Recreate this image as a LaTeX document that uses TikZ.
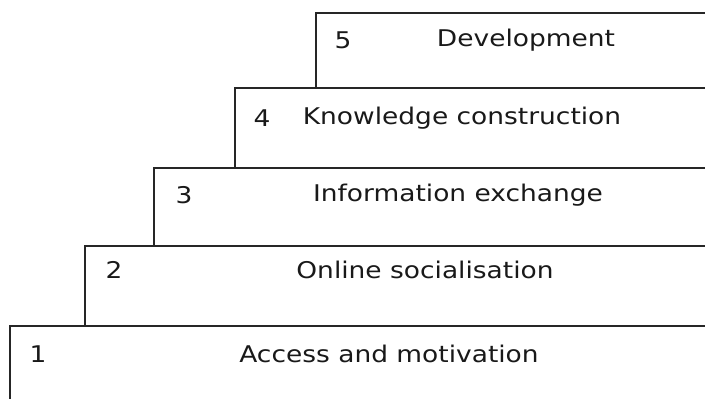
\documentclass[tikz,border=0pt]{standalone}
\usepackage{fontspec}
\setmainfont{DejaVu Sans}[FakeStretch=1.15]
\begin{document}
\begin{tikzpicture}[x=1pt,y=-1pt,
  stepline/.style={line width=2.4pt, draw=black!85},
  lbl/.style={font=\fontsize{23}{25}\selectfont, text=black!90, inner sep=0pt}]
\useasboundingbox (0,0) rectangle (705,399);
% corners
\coordinate (t5) at (316,13);  \coordinate (r5) at (705,13);
\coordinate (t4) at (235,88);  \coordinate (r4) at (705,88);
\coordinate (t3) at (154,168); \coordinate (r3) at (705,168);
\coordinate (t2) at (85,246);  \coordinate (r2) at (705,246);
\coordinate (t1) at (10,326);  \coordinate (r1) at (705,326);
\coordinate (b1) at (10,399);
\coordinate (b5) at (316,88);
\coordinate (b4) at (235,168);
\coordinate (b3) at (154,246);
\coordinate (b2) at (85,326);
\draw[stepline] (b5) -- (t5) -- (r5);
\draw[stepline] (b4) -- (t4) -- (r4);
\draw[stepline] (b3) -- (t3) -- (r3);
\draw[stepline] (b2) -- (t2) -- (r2);
\draw[stepline] (b1) -- (t1) -- (r1);
% labels
\node[lbl] (n5) at (343,40) {5};
\node[lbl] (l5) at (526,40) {Development};
\node[lbl] (n4) at (262,118) {4};
\node[lbl] (l4) at (462,118) {Knowledge construction};
\node[lbl] (n3) at (184,195) {3};
\node[lbl] (l3) at (458,195) {Information exchange};
\node[lbl] (n2) at (114,270) {2};
\node[lbl] (l2) at (425,270) {Online socialisation};
\node[lbl] (n1) at (38,354) {1};
\node[lbl] (l1) at (389,354) {Access and motivation};
\end{tikzpicture}
\end{document}
